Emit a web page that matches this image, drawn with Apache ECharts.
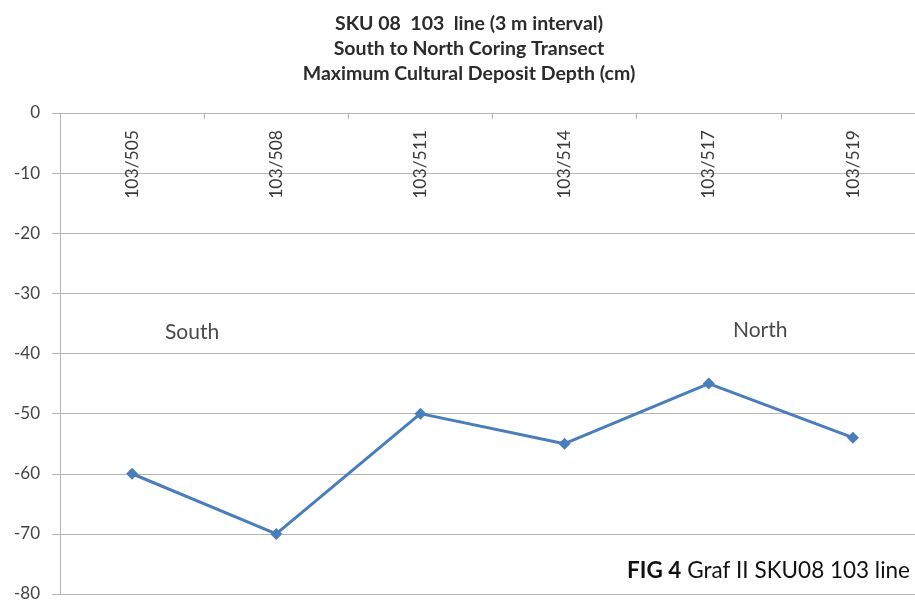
<!DOCTYPE html>
<html>
<head>
<meta charset="utf-8">
<title>SKU 08 103 line</title>
<script src="https://cdn.jsdelivr.net/npm/echarts@6/dist/echarts.min.js"></script>
<style>
  html, body { margin: 0; padding: 0; background: #fff; }
  #chart { width: 915px; height: 603px; }
</style>
</head>
<body>
<div id="chart"></div>
<script>
// Coring positions along the 103 line, south to north
const stations = ["103/505", "103/508", "103/511", "103/514", "103/517", "103/519"];
// Maximum cultural deposit depth (cm), negative = below surface
const depths = [-60, -70, -50, -55, -45, -54];

const titleLines = [
  "SKU 08  103  line (3 m interval)",
  "South to North Coring Transect",
  "Maximum Cultural Deposit Depth (cm)"
];

const chartDom = document.getElementById("chart");
const myChart = echarts.init(chartDom);

const gridColor = "#b5b5b5";
const fontName = "Lato";

let option = {
  animation: false,
  backgroundColor: "#fff",
  grid: {
    left: 60,
    top: 113,
    width: 865, // plot runs a bit past the right edge, as in the original crop
    bottom: 9,
    outerBoundsMode: "none",
    containLabel: false,
  },
  xAxis: {
    type: "category",
    position: "top",
    data: stations,
    boundaryGap: true,
    axisLine: { lineStyle: { color: gridColor, width: 1 } },
    axisTick: { show: true, inside: true, length: 6, lineStyle: { color: gridColor } },
    axisLabel: {
      inside: true,
      rotate: 90,
      margin: 17,
      fontFamily: fontName,
      fontSize: 17.5,
      color: "#3a3a3a",
    },
    splitLine: { show: false },
  },
  yAxis: {
    type: "value",
    min: -80,
    max: 0,
    interval: 10,
    axisLine: { show: true, lineStyle: { color: gridColor } },
    axisTick: { show: true, length: 8, lineStyle: { color: gridColor } },
    axisLabel: {
      margin: 20,
      fontFamily: fontName,
      fontSize: 17,
      color: "#444",
    },
    splitLine: { lineStyle: { color: gridColor, width: 1 } },
  },
  graphic: [
    {
      // chart title, centred a little right of the page middle
      type: "text",
      x: 469,
      y: 11,
      style: {
        text: titleLines.join("\n"),
        textAlign: "center",
        fontFamily: fontName,
        fontSize: 19.5,
        fontWeight: "bold",
        lineHeight: 25,
        fill: "#2b2b2b",
      },
    },
    {
      type: "text",
      x: 165,
      y: 332,
      style: { text: "South", textVerticalAlign: "middle", fontFamily: fontName, fontSize: 21, fill: "#4a4a4a" },
    },
    {
      type: "text",
      x: 733,
      y: 330,
      style: { text: "North", textVerticalAlign: "middle", fontFamily: fontName, fontSize: 21, fill: "#4a4a4a" },
    },
    {
      type: "text",
      x: 910,
      y: 571,
      style: {
        text: "{b|FIG 4} Graf II SKU08 103 line",
        textAlign: "right",
        textVerticalAlign: "middle",
        fontFamily: fontName,
        fontSize: 22.5,
        fill: "#111",
        rich: {
          b: { fontFamily: fontName, fontSize: 22.5, fontWeight: "bold", fill: "#111" },
        },
      },
    },
  ],
  series: [
    {
      type: "line",
      data: depths,
      symbol: "diamond",
      symbolSize: 12,
      lineStyle: { color: "#4a7ebb", width: 3 },
      itemStyle: { color: "#4a7ebb" },
    },
  ],
};

myChart.setOption(option);

window.addEventListener("resize", () => {
  myChart.resize();
});
</script>
</body>
</html>
